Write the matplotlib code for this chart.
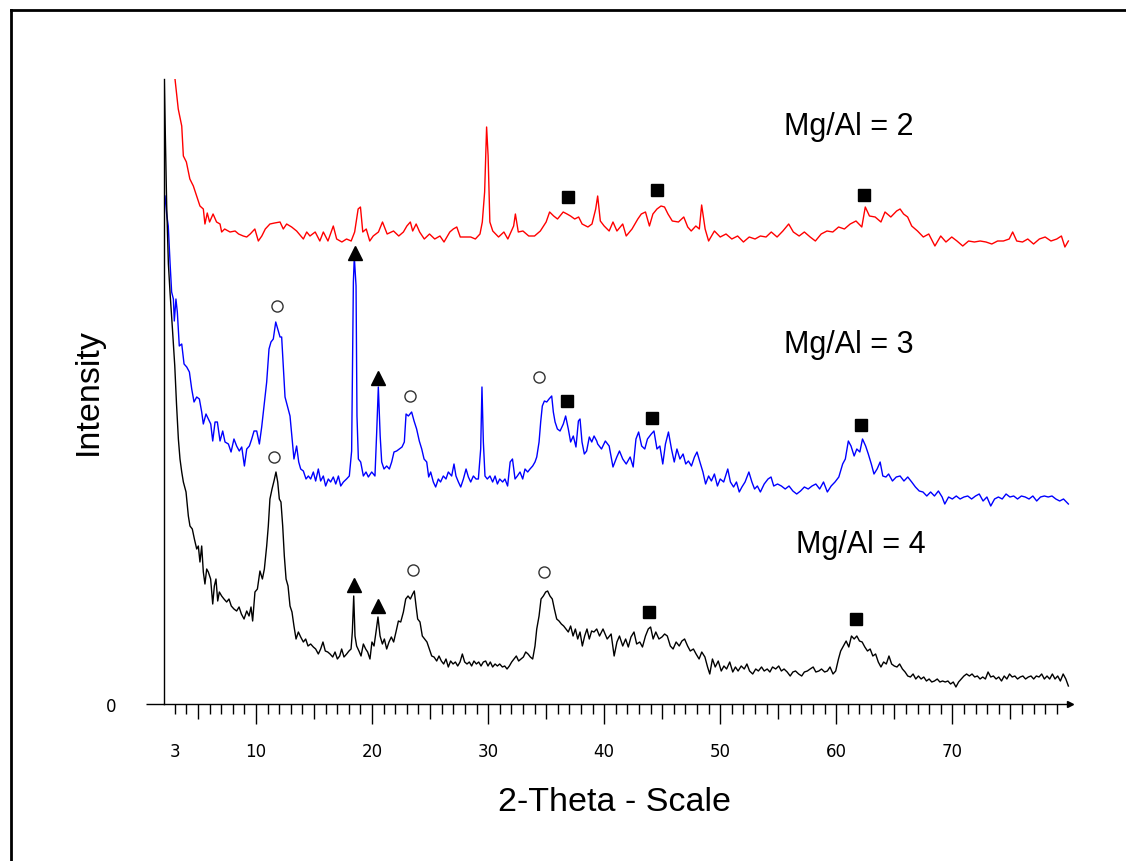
import numpy as np
import matplotlib.pyplot as plt
from matplotlib.lines import Line2D

# XRD patterns (2-theta in degrees, intensity in arbitrary units, curves offset)
RED_TTH = [3.02, 3.3, 3.6, 3.74, 4.0, 4.3, 4.6, 4.89, 5.17, 5.46, 5.6, 5.8, 6.0, 6.3, 6.6, 6.9, 7.04, 7.3, 7.76,
           8.2, 8.5, 8.9, 9.2, 9.5, 9.9, 10.2, 10.5, 10.8, 11.2, 11.6, 12.07, 12.35, 12.64, 13.07, 13.5, 14.08,
           14.37, 14.65, 15.1, 15.5, 15.8, 16.2, 16.66, 16.95, 17.4, 17.8, 18.2, 18.5, 18.8, 19.0, 19.2, 19.5,
           19.8, 20.1, 20.55, 20.9, 21.3, 21.85, 22.3, 22.7, 23.0, 23.3, 23.5, 23.8, 24.1, 24.5, 24.95, 25.4,
           25.85, 26.2, 26.7, 27.0, 27.3, 27.6, 28.0, 28.5, 28.9, 29.3, 29.5, 29.7, 29.87, 30.0, 30.15, 30.4,
           30.9, 31.36, 31.7, 32.2, 32.35, 32.6, 33.0, 33.5, 34.0, 34.5, 35.0, 35.3, 35.65, 35.98, 36.47, 36.8,
           37.1, 37.46, 37.8, 38.1, 38.6, 38.95, 39.27, 39.44, 39.67, 40.0, 40.43, 40.76, 41.1, 41.6, 41.9,
           42.4, 42.9, 43.2, 43.56, 43.9, 44.2, 44.55, 44.9, 45.2, 45.5, 45.87, 46.4, 46.86, 47.2, 47.5, 47.9,
           48.2, 48.4, 48.7, 49.0, 49.5, 50.0, 50.5, 51.0, 51.5, 52.0, 52.5, 53.0, 53.46, 53.95, 54.4, 54.9,
           55.4, 55.9, 56.3, 56.8, 57.25, 57.75, 58.2, 58.7, 59.2, 59.7, 60.2, 60.7, 61.2, 61.7, 62.2, 62.5,
           62.86, 63.35, 63.85, 64.2, 64.7, 65.2, 65.5, 65.8, 66.15, 66.5, 67.0, 67.5, 67.97, 68.5, 69.0,
           69.45, 69.95, 70.4, 70.9, 71.4, 71.9, 72.4, 72.9, 73.4, 73.9, 74.4, 74.9, 75.2, 75.55, 76.05, 76.5,
           77.0, 77.5, 78.0, 78.5, 79.0, 79.4, 79.7, 80.0]
RED_INT = [625, 595, 578, 548, 542, 525, 518, 508, 498, 495, 480, 491, 482, 490, 482, 480, 472, 475, 472,
           473, 470, 468, 467, 470, 475, 463, 468, 475, 480, 481, 482, 475, 480, 477, 473, 465,
           472, 468, 472, 463, 472, 463, 478, 465, 462, 465, 463, 472, 495, 497, 472, 475,
           463, 468, 472, 482, 470, 473, 468, 472, 478, 482, 473, 480, 472, 465, 470, 465,
           468, 462, 472, 475, 477, 467, 467, 467, 465, 470, 482, 512, 577, 548, 482, 473,
           467, 472, 465, 478, 490, 472, 473, 468, 468, 473, 482, 492, 488, 485, 492, 490,
           488, 485, 487, 480, 477, 480, 495, 508, 483, 478, 473, 482, 473, 480, 468,
           475, 485, 490, 492, 478, 490, 495, 498, 497, 490, 483, 482, 487, 477, 473, 478,
           475, 499, 475, 463, 473, 467, 470, 465, 468, 462, 467, 465, 468, 467, 472, 467,
           473, 480, 472, 468, 472, 467, 463, 470, 473, 472, 477, 475, 480, 483, 477, 497,
           488, 487, 482, 492, 487, 493, 495, 490, 487, 478, 473, 467, 470, 458, 468,
           462, 467, 463, 458, 463, 462, 463, 462, 460, 463, 463, 465, 472, 463, 462, 465,
           460, 465, 467, 463, 465, 468, 457, 463]

BLUE_TTH = [2.16, 2.3, 2.44, 2.59, 2.73, 2.88, 2.96, 3.1, 3.22, 3.39, 3.6, 3.8, 4.03, 4.26, 4.46, 4.66, 4.89,
            5.12, 5.32, 5.46, 5.69, 5.89, 6.1, 6.27, 6.47, 6.67, 6.9, 7.13, 7.33, 7.62, 7.85, 8.1, 8.33, 8.56,
            8.77, 9.0, 9.2, 9.43, 9.63, 9.83, 10.06, 10.29, 10.49, 10.69, 10.92, 11.12, 11.29, 11.49, 11.7,
            11.87, 12.07, 12.21, 12.36, 12.5, 12.7, 12.93, 13.13, 13.27, 13.5, 13.68, 13.85, 14.08, 14.31,
            14.51, 14.71, 14.94, 15.14, 15.37, 15.57, 15.8, 16.0, 16.23, 16.43, 16.66, 16.87, 17.1, 17.3,
            17.53, 17.8, 18.04, 18.24, 18.39, 18.47, 18.62, 18.7, 18.82, 19.02, 19.25, 19.48, 19.68, 19.97,
            20.25, 20.4, 20.54, 20.7, 20.83, 21.03, 21.26, 21.49, 21.69, 21.89, 22.12, 22.35, 22.58, 22.78,
            22.93, 23.13, 23.41, 23.62, 23.84, 24.07, 24.28, 24.48, 24.71, 24.88, 25.05, 25.28, 25.48, 25.71,
            25.9, 26.14, 26.37, 26.57, 26.86, 27.06, 27.23, 27.44, 27.64, 27.87, 28.1, 28.3, 28.5, 28.73,
            28.96, 29.16, 29.36, 29.47, 29.59, 29.73, 29.93, 30.16, 30.39, 30.6, 30.8, 31.0, 31.25, 31.45,
            31.68, 31.9, 32.1, 32.32, 32.52, 32.75, 32.98, 33.18, 33.41, 33.61, 33.84, 34.04, 34.19, 34.39,
            34.53, 34.67, 34.85, 35.05, 35.25, 35.48, 35.62, 35.77, 35.97, 36.2, 36.48, 36.68, 36.91, 37.11,
            37.34, 37.57, 37.78, 37.92, 38.09, 38.29, 38.49, 38.72, 38.93, 39.13, 39.36, 39.44, 39.77, 40.1,
            40.43, 40.76, 41.09, 41.32, 41.6, 41.9, 42.24, 42.5, 42.74, 42.97, 43.23, 43.5, 43.73, 44.06,
            44.29, 44.55, 44.8, 45.05, 45.28, 45.54, 45.8, 46.04, 46.27, 46.53, 46.8, 47.03, 47.26, 47.52,
            47.78, 48.0, 48.25, 48.51, 48.74, 49.0, 49.24, 49.5, 49.76, 50.0, 50.3, 50.65, 50.88, 51.15,
            51.4, 51.64, 51.87, 52.14, 52.47, 52.73, 52.96, 53.2, 53.46, 53.79, 54.12, 54.38, 54.61, 54.94,
            55.27, 55.6, 55.93, 56.26, 56.59, 56.92, 57.25, 57.58, 57.91, 58.24, 58.57, 58.9, 59.23, 59.56,
            59.89, 60.22, 60.55, 60.78, 61.04, 61.27, 61.54, 61.77, 62.03, 62.26, 62.53, 62.76, 63.02, 63.25,
            63.52, 63.78, 64.01, 64.28, 64.51, 64.84, 65.17, 65.5, 65.83, 66.16, 66.5, 66.82, 67.15, 67.47,
            67.8, 68.13, 68.46, 68.8, 69.12, 69.35, 69.68, 70.0, 70.34, 70.67, 71.0, 71.33, 71.66, 72.0,
            72.32, 72.65, 72.98, 73.31, 73.64, 73.97, 74.3, 74.63, 74.96, 75.29, 75.62, 75.95, 76.28, 76.61,
            76.94, 77.27, 77.6, 77.93, 78.26, 78.59, 78.92, 79.25, 79.58, 80.0]
BLUE_INT = [508, 490, 478, 442, 412, 405, 383, 405, 392, 358, 360, 340, 337, 332, 315, 302, 307,
            305, 292, 280, 290, 285, 280, 263, 282, 282, 263, 273, 262, 260, 252, 265, 258, 253,
            257, 238, 255, 258, 265, 273, 273, 260, 277, 298, 322, 355, 362, 365, 382,
            375, 367, 367, 335, 307, 298, 288, 263, 245, 258, 242, 235, 233, 225,
            228, 225, 232, 223, 235, 223, 228, 218, 225, 222, 227, 220, 228, 218,
            222, 225, 228, 253, 422, 447, 418, 288, 245, 242, 228, 232, 227, 232,
            228, 272, 317, 268, 242, 235, 238, 235, 242, 252, 253, 255, 257, 262,
            290, 288, 292, 283, 275, 263, 255, 245, 242, 227, 232, 222, 217, 225,
            222, 228, 225, 232, 228, 240, 228, 222, 217, 225, 235, 227, 222, 228,
            225, 225, 255, 317, 262, 228, 225, 228, 222, 228, 220, 225, 222, 225,
            218, 242, 245, 225, 228, 232, 225, 235, 232, 235, 238, 242, 247, 262,
            282, 298, 303, 302, 305, 308, 292, 282, 275, 273, 280, 288, 275, 262,
            268, 257, 283, 285, 262, 250, 253, 267, 262, 268, 263, 260, 255, 263,
            258, 237, 247, 253, 245, 240, 247, 237, 265, 272, 258, 255, 265, 270,
            273, 255, 258, 240, 260, 272, 255, 242, 255, 245, 250, 240, 243, 238,
            247, 252, 242, 232, 220, 228, 223, 230, 218, 225, 222, 235, 222, 217,
            222, 212, 217, 222, 232, 222, 215, 218, 212, 220, 225, 227, 218, 220,
            218, 215, 218, 213, 210, 213, 217, 215, 218, 220, 215, 222, 212, 218,
            222, 227, 240, 245, 263, 258, 248, 255, 252, 265, 258, 250, 240, 230,
            235, 242, 228, 227, 230, 223, 227, 228, 223, 227, 222, 217, 213, 212,
            208, 212, 208, 213, 207, 200, 207, 205, 208, 205, 207, 208, 205, 208,
            210, 203, 207, 198, 205, 207, 205, 210, 207, 208, 205, 208, 207, 205,
            208, 203, 207, 208, 207, 208, 205, 203, 205, 200]

BLACK_TTH = [2.1, 2.2, 2.3, 2.45, 2.6, 2.8, 3.0, 3.15, 3.31, 3.45, 3.6, 3.74, 3.97, 4.17, 4.31, 4.51, 4.69,
             4.89, 5.03, 5.17, 5.32, 5.46, 5.6, 5.75, 5.89, 6.09, 6.27, 6.41, 6.55, 6.7, 6.84, 7.04, 7.24,
             7.47, 7.67, 7.87, 8.1, 8.33, 8.54, 8.74, 8.97, 9.2, 9.4, 9.57, 9.71, 9.91, 10.12, 10.34, 10.55,
             10.72, 10.92, 11.06, 11.2, 11.38, 11.55, 11.72, 11.87, 12.01, 12.15, 12.3, 12.44, 12.59, 12.76,
             12.93, 13.1, 13.27, 13.45, 13.65, 13.85, 14.08, 14.28, 14.48, 14.71, 14.94, 15.14, 15.37, 15.57,
             15.77, 15.97, 16.18, 16.38, 16.61, 16.81, 17.01, 17.21, 17.38, 17.58, 17.81, 18.01, 18.19, 18.3,
             18.42, 18.53, 18.67, 18.87, 19.05, 19.25, 19.45, 19.62, 19.82, 19.99, 20.17, 20.34, 20.51, 20.69,
             20.89, 21.06, 21.26, 21.46, 21.66, 21.86, 22.06, 22.27, 22.47, 22.7, 22.9, 23.1, 23.3, 23.5,
             23.64, 23.79, 23.93, 24.13, 24.33, 24.53, 24.73, 24.94, 25.14, 25.34, 25.57, 25.77, 25.97, 26.17,
             26.37, 26.57, 26.77, 26.98, 27.18, 27.38, 27.58, 27.78, 27.98, 28.18, 28.38, 28.58, 28.78, 28.99,
             29.19, 29.39, 29.59, 29.79, 29.99, 30.19, 30.39, 30.6, 30.8, 31.0, 31.23, 31.43, 31.63, 31.83,
             32.03, 32.23, 32.43, 32.63, 32.83, 33.04, 33.24, 33.44, 33.64, 33.84, 34.04, 34.19, 34.39, 34.56,
             34.76, 34.96, 35.13, 35.33, 35.53, 35.71, 35.91, 36.11, 36.31, 36.51, 36.71, 36.91, 37.11, 37.32,
             37.52, 37.72, 37.92, 38.12, 38.32, 38.52, 38.72, 38.92, 39.12, 39.36, 39.6, 39.9, 40.26, 40.6,
             40.86, 41.1, 41.32, 41.6, 41.85, 42.08, 42.31, 42.57, 42.8, 43.07, 43.3, 43.56, 43.8, 44.0,
             44.22, 44.45, 44.72, 44.98, 45.21, 45.44, 45.7, 45.94, 46.2, 46.47, 46.7, 46.93, 47.19, 47.42,
             47.69, 47.92, 48.18, 48.41, 48.68, 48.91, 49.1, 49.33, 49.57, 49.83, 50.09, 50.32, 50.55, 50.82,
             51.08, 51.31, 51.54, 51.81, 52.07, 52.3, 52.53, 52.8, 53.06, 53.29, 53.56, 53.79, 54.05, 54.28,
             54.51, 54.78, 55.04, 55.27, 55.5, 55.77, 56.03, 56.26, 56.49, 56.76, 57.02, 57.25, 57.51, 57.75,
             58.01, 58.24, 58.5, 58.73, 59.0, 59.23, 59.46, 59.72, 59.95, 60.19, 60.38, 60.61, 60.85, 61.08,
             61.31, 61.54, 61.77, 62.0, 62.23, 62.46, 62.69, 62.92, 63.15, 63.39, 63.62, 63.85, 64.08, 64.31,
             64.54, 64.77, 65.0, 65.23, 65.46, 65.7, 65.93, 66.16, 66.39, 66.62, 66.85, 67.08, 67.31, 67.54,
             67.77, 68.0, 68.23, 68.46, 68.7, 68.93, 69.16, 69.39, 69.62, 69.85, 70.08, 70.31, 70.54, 70.77,
             71.0, 71.23, 71.47, 71.7, 71.93, 72.16, 72.39, 72.62, 72.85, 73.08, 73.31, 73.54, 73.77, 74.0,
             74.24, 74.47, 74.7, 74.93, 75.16, 75.39, 75.62, 75.85, 76.08, 76.31, 76.55, 76.78, 77.01, 77.24,
             77.47, 77.7, 77.93, 78.16, 78.39, 78.62, 78.85, 79.08, 79.31, 79.55, 79.78, 80.0]
BLACK_INT = [622, 560, 500, 440, 410, 375, 338, 300, 265, 245, 232, 222, 212, 188, 178, 175, 165,
             155, 158, 142, 158, 132, 120, 135, 132, 125, 100, 118, 125, 103, 112, 108, 105,
             102, 105, 98, 95, 93, 97, 90, 85, 93, 88, 97, 83, 112, 115, 133, 125,
             135, 158, 178, 205, 215, 223, 232, 222, 205, 202, 178, 148, 125, 118,
             98, 92, 78, 65, 72, 67, 62, 65, 58, 60, 57, 55, 50, 55,
             62, 53, 52, 50, 47, 52, 45, 48, 55, 47, 50, 53, 55, 72,
             108, 68, 58, 53, 48, 60, 55, 52, 45, 62, 58, 72, 87, 68,
             60, 65, 55, 62, 67, 62, 72, 83, 82, 92, 105, 108, 105, 110,
             113, 98, 85, 82, 68, 65, 62, 55, 48, 47, 43, 48, 43, 40,
             45, 37, 43, 40, 42, 38, 42, 50, 42, 40, 42, 38, 43, 40,
             42, 38, 42, 43, 38, 42, 37, 40, 38, 40, 37, 38, 35, 38,
             42, 45, 48, 43, 45, 47, 52, 50, 47, 45, 58, 75, 88, 105,
             108, 112, 113, 108, 105, 95, 85, 83, 80, 78, 75, 72, 78, 68,
             75, 65, 72, 58, 68, 75, 65, 73, 72, 75, 68, 75, 65, 70,
             48, 62, 68, 58, 65, 57, 67, 72, 60, 62, 57, 68, 75, 77,
             65, 72, 65, 67, 70, 68, 58, 55, 62, 58, 63, 65, 58, 53,
             55, 50, 45, 52, 47, 37, 30, 45, 37, 43, 33, 38, 35, 42,
             32, 37, 33, 38, 35, 40, 33, 30, 35, 33, 37, 33, 35, 32,
             37, 35, 38, 33, 35, 32, 28, 32, 33, 30, 28, 32, 33, 35,
             37, 32, 33, 35, 32, 33, 37, 30, 33, 45, 53, 58, 63, 57,
             68, 65, 68, 63, 62, 57, 53, 55, 48, 50, 42, 37, 42, 40,
             48, 40, 38, 37, 40, 35, 32, 28, 27, 30, 25, 28, 25, 27,
             23, 25, 22, 23, 25, 22, 23, 22, 23, 20, 22, 17, 22, 25,
             28, 30, 28, 30, 27, 28, 25, 27, 25, 32, 27, 28, 25, 27,
             23, 28, 25, 30, 27, 28, 25, 27, 28, 25, 27, 28, 25, 28,
             27, 30, 25, 28, 25, 30, 25, 28, 23, 30, 25, 18]

# Phase reflections marked above the peaks
CIRCLE_TTH = [11.84, 23.27, 34.39, 11.55, 23.5, 34.8]
CIRCLE_INT = [398, 308, 327, 247, 134, 132]
TRIANGLE_TTH = [18.53, 20.48, 18.45, 20.48]
TRIANGLE_INT = [451, 326, 119, 98]
SQUARE_TTH = [36.9, 44.55, 62.36, 36.8, 44.15, 62.1, 43.9, 61.7]
SQUARE_INT = [507, 514, 509, 303, 286, 279, 92, 85]

SAMPLE_LABELS = ["Mg/Al = 2", "Mg/Al = 3", "Mg/Al = 4"]
LABEL_TTH = [61.1, 61.1, 62.1]
LABEL_INT = [578, 360, 160]

TICK_POS = list(range(3, 80))
TICK_TEXT = {3: "3", 10: "10", 20: "20", 30: "30", 40: "40", 50: "50", 60: "60", 70: "70"}

W, H = 1126, 862
fig = plt.figure(figsize=(W / 100, H / 100), dpi=100)
ax = fig.add_axes([164 / W, 157 / H, 906 / W, 625 / H])

for tth, inten, col in [(RED_TTH, RED_INT, "#ff0000"), (BLUE_TTH, BLUE_INT, "#0000ff"),
                        (BLACK_TTH, BLACK_INT, "black")]:
    ax.plot(tth, inten, color=col, lw=1.0)

ax.plot(CIRCLE_TTH, CIRCLE_INT, "o", ms=8, mfc="white", mec="#333333", mew=1.0, ls="none")
ax.plot(TRIANGLE_TTH, TRIANGLE_INT, "^", ms=10, color="black", ls="none")
ax.plot(SQUARE_TTH, SQUARE_INT, "s", ms=9, color="black", ls="none")

for txt, tx, ty in zip(SAMPLE_LABELS, LABEL_TTH, LABEL_INT):
    ax.text(tx, ty, txt, fontsize=22, family="Liberation Sans", ha="center", va="center")

ax.set_xlim(2.072, 80.14)
ax.set_ylim(0, 625)

for side in ["top", "right"]:
    ax.spines[side].set_visible(False)
ax.spines["left"].set_linewidth(1.0)
ax.spines["bottom"].set_linewidth(1.0)

# x ticks: short every degree, longer every 5, longest every 10
ax.set_xticks(TICK_POS)
ax.set_xticklabels([TICK_TEXT.get(v, "") for v in TICK_POS])
ax.tick_params(axis="x", direction="out", length=7.2, width=1.0, pad=20, labelsize=12)
for tick, v in zip(ax.xaxis.get_major_ticks(), TICK_POS):
    if v % 10 == 0:
        tick.tick1line.set_markersize(14.4)
    elif v % 5 == 0:
        tick.tick1line.set_markersize(10.8)

ax.set_yticks([0])
ax.tick_params(axis="y", direction="out", length=13, width=1.0, pad=21, labelsize=12)

# arrow head at the end of the 2-theta axis
ax.plot([1.0], [0.0], marker=">", ms=5, color="black", transform=ax.transAxes, clip_on=False)

fig.text(614 / W, 1 - 803 / H, "2-Theta - Scale", fontsize=24.5, family="Liberation Sans",
         ha="center", va="center")
fig.text(88 / W, 1 - 392 / H, "Intensity", fontsize=24.5, family="Liberation Sans",
         ha="center", va="center", rotation=90)

# frame around the figure
fig.add_artist(Line2D([11 / W, 11 / W], [0, 1 - 11 / H], color="black", lw=2.0))
fig.add_artist(Line2D([11 / W, 1], [1 - 11 / H, 1 - 11 / H], color="black", lw=2.0))

fig.savefig("out.png", dpi=100)
